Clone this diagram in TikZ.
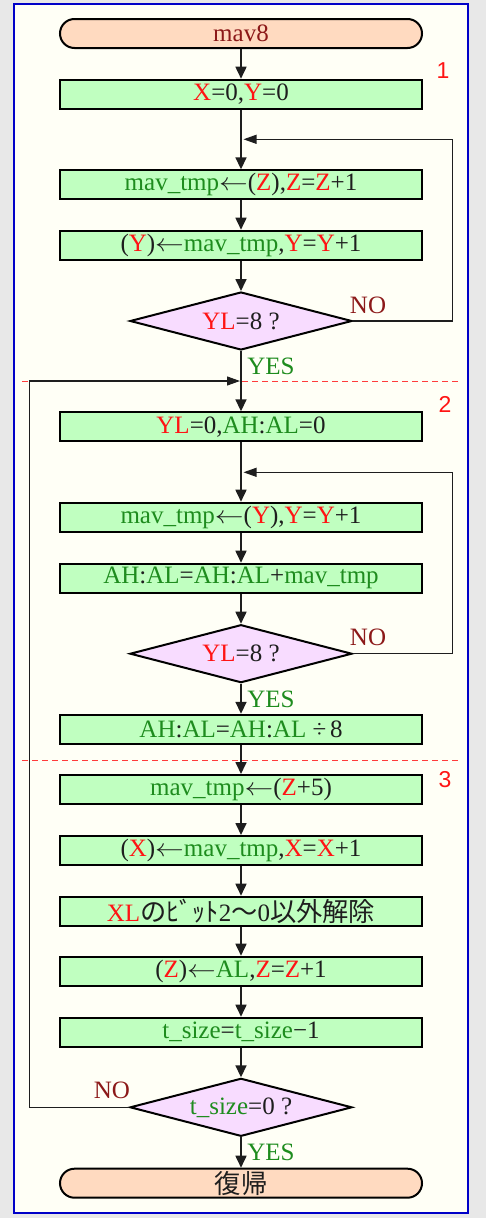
\RequirePackage{fix-cm}
\documentclass[tikz,border=0pt]{standalone}
\usepackage{fontspec}
\setmainfont{Liberation Serif}
\usetikzlibrary{shapes.geometric,arrows.meta}
\newfontfamily\cjk[Scale=1.05]{Noto Sans CJK JP}
\newfontfamily\lsans{Liberation Sans}
\definecolor{tgreen}{RGB}{30,140,30}
\definecolor{tred}{RGB}{255,20,20}
\definecolor{tmaroon}{RGB}{140,25,25}
\definecolor{tblack}{RGB}{30,30,30}
\definecolor{boxgreen}{RGB}{192,255,192}
\definecolor{termfill}{RGB}{255,218,192}
\definecolor{decfill}{RGB}{248,220,255}
\definecolor{paper}{RGB}{255,255,246}
\definecolor{outer}{RGB}{232,232,232}
\definecolor{framecol}{RGB}{0,0,200}
\definecolor{linecol}{RGB}{30,30,30}
\definecolor{dashcol}{RGB}{255,60,60}
\newcommand\gr[1]{\textcolor{tgreen}{#1}}
\newcommand\rd[1]{\textcolor{tred}{#1}}
\newcommand\larr{\scalebox{1.15}[1]{$\leftarrow$}}
\begin{document}
\begin{tikzpicture}[x=1pt,y=-1pt,
  every node/.style={font=\fontsize{25pt}{29pt}\selectfont, text=tblack},
  proc/.style={draw=black, line width=2pt, fill=boxgreen, minimum width=362pt, minimum height=29pt, inner sep=0pt},
  term/.style={proc, fill=termfill, rounded corners=14.5pt},
  dec/.style={diamond, draw=black, line width=2pt, fill=decfill, minimum width=222pt, minimum height=58pt, inner sep=0pt, aspect=3.8},
  flow/.style={draw=linecol, line width=1.7pt, -{Triangle[length=12pt,width=11pt]}},
  backline/.style={draw=linecol, line width=1.1pt, -{Triangle[length=13pt,width=9pt]}},
  dashline/.style={draw=dashcol, line width=0.9pt, dash pattern=on 6pt off 4pt},
  seclabel/.style={font=\lsans\fontsize{23pt}{26pt}\selectfont, text=tred},
  nolabel/.style={text=tmaroon},
  yeslabel/.style={text=tgreen},
]
\fill[outer] (0,0) rectangle (486,1218);
\useasboundingbox (0,0) rectangle (486,1218);
\draw[framecol, line width=2pt, fill=paper] (14,4) rectangle (468,1213);

% dashed separators
\draw[dashline] (22,381) -- (459,381);
\draw[dashline] (22,760) -- (459,760);

% section labels
\node[seclabel] (s1) at (443,70.5) {1};
\node[seclabel] (s2) at (445,404) {2};
\node[seclabel] (s3) at (445,780) {3};

% nodes
\node[term] (start) at (241,33.5) {\textcolor{tmaroon}{mav8}};
\node[proc] (b1) at (241,94.2) {\rd{X}=0,\rd{Y}=0};
\node[proc] (b2) at (241,184.8) {\gr{mav\_tmp}\larr(\rd{Z}),\rd{Z}=\rd{Z}+1};
\node[proc] (b3) at (241,245.2) {(\rd{Y})\larr\gr{mav\_tmp},\rd{Y}=\rd{Y}+1};
\node[dec] (d1) at (241,321) {\rd{YL}=8 ?};
\node[proc] (b4) at (241,426.8) {\rd{YL}=0,\gr{AH}:\gr{AL}=0};
\node[proc] (b5) at (241,517.2) {\gr{mav\_tmp}\larr(\rd{Y}),\rd{Y}=\rd{Y}+1};
\node[proc] (b6) at (241,578.2) {\gr{AH}:\gr{AL}=\gr{AH}:\gr{AL}+\gr{mav\_tmp}};
\node[dec] (d2) at (241,653.7) {\rd{YL}=8 ?};
\node[proc] (b7) at (241,729.3) {\gr{AH}:\gr{AL}=\gr{AH}:\gr{AL}\hspace{0.25em}÷\hspace{0.15em}8};
\node[proc] (b8) at (241,789.5) {\gr{mav\_tmp}\larr(\rd{Z}+5)};
\node[proc] (b9) at (241,850.5) {(\rd{X})\larr\gr{mav\_tmp},\rd{X}=\rd{X}+1};
\node[proc] (b10) at (241,911.2) {\rd{XL}{\cjk のﾋﾞｯﾄ}2{\cjk 〜}0{\cjk 以外解除}};
\node[proc] (b11) at (241,971.2) {(\rd{Z})\larr\gr{AL},\rd{Z}=\rd{Z}+1};
\node[proc] (b12) at (241,1032.2) {\gr{t\_size}=\gr{t\_size}−1};
\node[dec] (d3) at (241,1107.3) {\gr{t\_size}=0 ?};
\node[term] (end) at (241,1183.2) {{\cjk 復帰}};

% labels
\node[nolabel] (no1) at (368,305) {NO};
\node[yeslabel] (yes1) at (271,366) {YES};
\node[nolabel] (no2) at (368,637) {NO};
\node[yeslabel] (yes2) at (271,699) {YES};
\node[nolabel] (no3) at (112,1090) {NO};
\node[yeslabel] (yes3) at (271,1152) {YES};

% coordinates
\coordinate (r1) at (452.7,139.3);
\coordinate (j1) at (243.5,139.3);
\coordinate (r2) at (452.7,472.3);
\coordinate (j2) at (243.5,472.3);
\coordinate (l0) at (29.3,381);
\coordinate (j0) at (240,381);

% main flow
\draw[flow] (start) -- (b1);
\draw[flow] (b1) -- (b2);
\draw[flow] (b2) -- (b3);
\draw[flow] (b3) -- (d1);
\draw[flow] (d1) -- (b4);
\draw[flow] (b4) -- (b5);
\draw[flow] (b5) -- (b6);
\draw[flow] (b6) -- (d2);
\draw[flow] (d2) -- (b7);
\draw[flow] (b7) -- (b8);
\draw[flow] (b8) -- (b9);
\draw[flow] (b9) -- (b10);
\draw[flow] (b10) -- (b11);
\draw[flow] (b11) -- (b12);
\draw[flow] (b12) -- (d3);
\draw[flow] (d3) -- (end);

% loops
\draw[backline] (d1.east) -- (d1.east -| r1) -- (r1) -- (j1);
\draw[backline] (d2.east) -- (d2.east -| r2) -- (r2) -- (j2);
\draw[backline] (d3.west) -- (d3.west -| l0) -- (l0) -- (j0);
\end{tikzpicture}
\end{document}
